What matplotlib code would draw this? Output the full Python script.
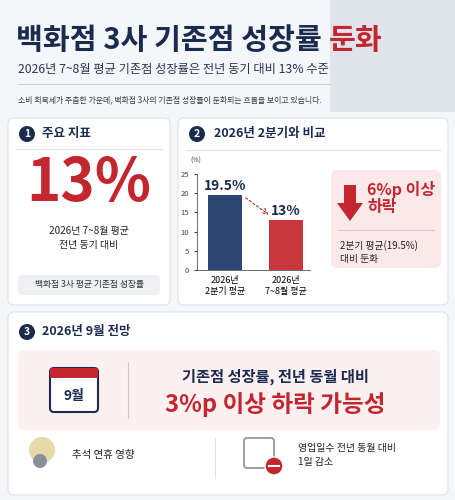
import matplotlib
matplotlib.use("Agg")
import matplotlib.pyplot as plt
from matplotlib.patches import FancyBboxPatch, Circle, FancyArrow, Rectangle
plt.rcParams['font.family'] = ['Noto Sans CJK KR', 'DejaVu Sans']

categories = ["2026년\n2분기 평균", "2026년\n7~8월 평균"]
values = [19.5, 13]
value_labels = ["19.5%", "13%"]
yticks = [0, 5, 10, 15, 20, 25]

NAVY = "#1b2b4f"
BAR1 = "#2e4673"
RED = "#c3262f"

fig = plt.figure(figsize=(4.56, 5.0), dpi=100)
fig.patch.set_facecolor("#f4f6f9")
bg = fig.add_axes([0, 0, 1, 1])
bg.set_xlim(0, 456); bg.set_ylim(500, 0); bg.axis("off")

def box(x, y, w, h, fc="white", ec="#dde2ea", r=6, lw=0.8):
    bg.add_patch(FancyBboxPatch((x, y), w, h, boxstyle=f"round,pad=0,rounding_size={r}",
                                fc=fc, ec=ec, lw=lw))

def T(x, y, s, size, color=NAVY, weight="normal", ha="left", va="center", **kw):
    return bg.text(x, y, s, fontsize=size, color=color, fontweight=weight, ha=ha, va=va, **kw)

def badge(x, y, n):
    bg.add_patch(Circle((x, y), 8, fc=NAVY, ec="none"))
    T(x, y, n, 7.5, color="white", weight="bold", ha="center")

# header
bg.add_patch(Rectangle((330, 0), 126, 112, fc="#dfe4ea", ec="none"))
t1 = T(16, 40, "백화점 3사 기존점 성장률", 21, weight="black")
r = fig.canvas.get_renderer()
bb = t1.get_window_extent(renderer=r)
T(bb.x1 + 7, 40, "둔화", 21, color=RED, weight="black")
T(18, 69, "2026년 7~8월 평균 기존점 성장률은 전년 동기 대비 13% 수준", 8.8, color="#2a3550")
bg.plot([18, 330], [84, 84], color="#c8ced8", lw=0.8)
T(18, 100, "소비 회복세가 주춤한 가운데, 백화점 3사의 기존점 성장률이 둔화되는 흐름을 보이고 있습니다.", 5.7, color="#333a48")

# panel 1
box(8, 118, 162, 187)
badge(27, 134, "1")
T(42, 134, "주요 지표", 9, weight="bold")
bg.plot([16, 162], [149, 149], color="#dfe3ea", lw=0.8)
T(89, 184, "13%", 42, color=RED, weight="bold", ha="center")
T(89, 238, "2026년 7~8월 평균\n전년 동기 대비", 7.2, color="#222", ha="center", linespacing=1.4)
box(18, 275, 142, 20, fc="#eef0f4", ec="none", r=4)
T(89, 285, "백화점 3사 평균 기존점 성장률", 6.3, color="#333", ha="center")

# panel 2
box(178, 118, 270, 187)
badge(197, 134, "2")
T(214, 134, "2026년 2분기와 비교", 9, weight="bold")
bg.plot([186, 440], [150, 150], color="#dfe3ea", lw=0.8)
T(190, 161, "(%)", 5, color="#444")
box(331, 170, 110, 98, fc="#fbe9ea", ec="none", r=6)
bg.add_patch(FancyArrow(350, 185, 0, 36, width=12, head_width=26, head_length=18,
                        length_includes_head=True, fc=RED, ec="none"))
T(367, 198, "6%p 이상\n하락", 11.5, color=RED, weight="bold", linespacing=1.05)
bg.plot([338, 434], [230, 230], color="#e3c5c8", lw=0.8)
T(340, 252, "2분기 평균(19.5%)\n대비 둔화", 7, color="#222", linespacing=1.4)

ax = fig.add_axes([197/456, (500-270)/500, 113/456, 96/500])
ax.set_facecolor("none")
xs = list(range(len(values)))
ax.bar(xs, values, width=0.55, color=[BAR1, "#c8363d"])
ax.set_xlim(-0.46, 1.39); ax.set_ylim(0, 25)
ax.set_yticks(yticks)
ax.set_xticks(xs); ax.set_xticklabels(categories, fontsize=6.5, linespacing=1.3)
ax.tick_params(axis="y", labelsize=5.5, length=2, colors="#444")
ax.tick_params(axis="x", length=0, pad=4)
for s in ["top", "right"]:
    ax.spines[s].set_visible(False)
for s in ["left", "bottom"]:
    ax.spines[s].set_color("#555"); ax.spines[s].set_linewidth(0.6)
for x, v, l in zip(xs, values, value_labels):
    ax.text(x, v + 0.6, l, ha="center", va="bottom", fontsize=10, fontweight="bold", color=NAVY)
ax.annotate("", xy=(0.75, values[1] + 1.0), xytext=(0.3, values[0] - 0.3),
            arrowprops=dict(arrowstyle="->", color=RED, ls=(0, (2, 2)), lw=0.8))

# panel 3
box(8, 312, 440, 183)
badge(27, 332, "3")
T(42, 332, "2026년 9월 전망", 9, weight="bold")
box(18, 350, 422, 80, fc="#fdf0f1", ec="none", r=6)
box(50, 368, 48, 44, fc="white", ec=NAVY, r=4, lw=1.5)
bg.add_patch(Rectangle((50, 368), 48, 10, fc=RED, ec="none"))
T(74, 396, "9월", 10, weight="bold", ha="center")
bg.plot([128, 128], [362, 418], color="#d9c6c8", lw=0.8)
T(275, 377, "기존점 성장률, 전년 동월 대비", 11, weight="bold", ha="center")
T(275, 405, "3%p 이상 하락 가능성", 17, color=RED, weight="bold", ha="center")
bg.add_patch(Circle((42, 450), 13, fc="#e8d9a8", ec="none"))
bg.add_patch(Circle((40, 461), 7, fc="#8a8f99", ec="none"))
T(72, 455, "추석 연휴 영향", 7.5, color="#222")
bg.plot([215, 215], [438, 478], color="#dde2ea", lw=0.8)
box(244, 438, 30, 30, fc="white", ec="#8a8f99", r=3, lw=1.2)
bg.add_patch(Circle((274, 466), 9, fc=RED, ec="white", lw=1))
bg.plot([269, 279], [466, 466], color="white", lw=1.5)
T(298, 455, "영업일수 전년 동월 대비\n1일 감소", 7.2, color="#222", linespacing=1.4)

fig.savefig("out.png", dpi=100, facecolor=fig.get_facecolor())
